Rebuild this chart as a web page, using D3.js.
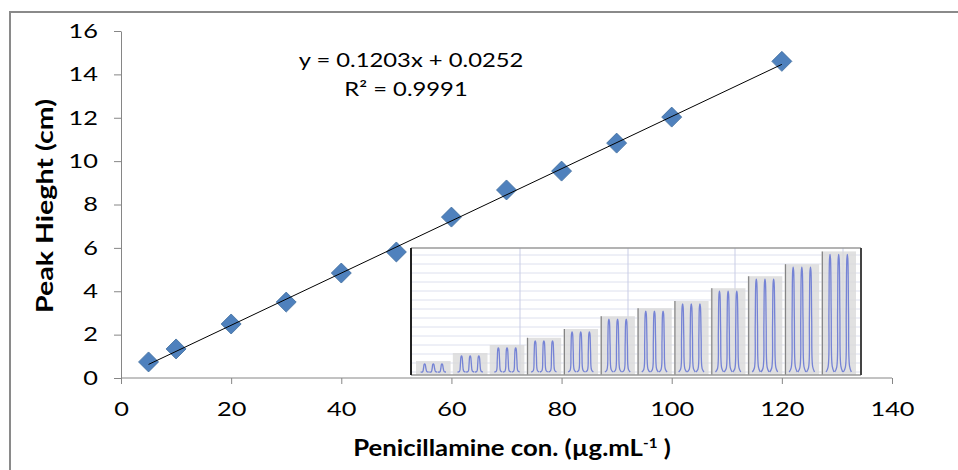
<!DOCTYPE html>
<html>
<head>
  <meta charset="utf-8">
  <script src="https://d3js.org/d3.v7.min.js"></script>
  <style>
    body { margin: 0; background: #fff; }
    svg { display: block; font-family: Lato, "Open Sans", sans-serif; }
    .tick text { font-size: 19.5px; fill: #000; font-family: Lato, sans-serif; }
    .axis path, .axis line { stroke: #868686; }
  </style>
</head>
<body>
  <svg id="chart" width="958" height="470"></svg>
  <script>
    // concentration (µg/mL) and peak height (cm)
    const conc = [5, 10, 20, 30, 40, 50, 60, 70, 80, 90, 100, 120];
    const height = [0.74, 1.34, 2.49, 3.5, 4.84, 5.81, 7.42, 8.67, 9.54, 10.83, 12.03, 14.6];
    // fitted line from the equation label
    const slope = 0.1203;
    const intercept = 0.0252;
    const xTicks = [0, 20, 40, 60, 80, 100, 120, 140];
    const yTicks = [0, 2, 4, 6, 8, 10, 12, 14, 16];
    // recorder trace in the inset: peak heights of the 12 groups (same units)
    const insetPeaks = [1.0, 2.0, 3.0, 3.9, 5.0, 6.6, 7.6, 8.5, 10.1, 11.6, 13.1, 14.7];

    const svg = d3.select("#chart");
    const stretch = 1.3;   // text in the original is wide, so widen glyphs

    // outer frame
    svg.append("rect")
      .attr("x", 10).attr("y", 12)
      .attr("width", 960).attr("height", 480)
      .attr("fill", "none").attr("stroke", "#8a8a8a").attr("stroke-width", 2);

    const x = d3.scaleLinear().domain([0, 140]).range([121, 892]);
    const y = d3.scaleLinear().domain([0, 16]).range([378, 31]);

    // axes
    svg.append("g").attr("class", "axis")
      .attr("transform", "translate(0,378)")
      .call(d3.axisBottom(x).tickValues(xTicks).tickSize(6).tickPadding(18).tickSizeOuter(0))
      .call(g => g.select(".domain").attr("d", "M121,0H892"))
      .call(g => g.selectAll(".tick text").attr("transform", `scale(${stretch},1)`));

    svg.append("g").attr("class", "axis")
      .attr("transform", "translate(121,0)")
      .call(d3.axisLeft(y).tickValues(yTicks).tickSize(7).tickPadding(16).tickSizeOuter(0))
      .call(g => g.selectAll(".tick text")
        .attr("x", -23 / stretch)
        .attr("transform", `scale(${stretch},1)`));

    // --- inset trace ---
    const inset = svg.append("g");
    const ix0 = 411, ix1 = 861, iy0 = 248, iy1 = 375;
    inset.append("rect")
      .attr("x", ix0).attr("y", iy0).attr("width", ix1 - ix0).attr("height", iy1 - iy0)
      .attr("fill", "#fff");

    // light grid of the recorder paper
    inset.selectAll("line.hgrid").data(d3.range(iy1 - 3, iy0, -9))
      .join("line").attr("class", "hgrid")
      .attr("x1", ix0).attr("x2", ix1)
      .attr("y1", d => d).attr("y2", d => d)
      .attr("stroke", "#dde0ee").attr("stroke-width", 1);
    inset.selectAll("line.vgrid").data([520, 628, 735, 843])
      .join("line").attr("class", "vgrid")
      .attr("x1", d => d).attr("x2", d => d)
      .attr("y1", iy0).attr("y2", iy1)
      .attr("stroke", "#c9cde6").attr("stroke-width", 1);

    const band = d3.scaleBand().domain(d3.range(insetPeaks.length))
      .range([416, 856]).paddingInner(0.06);
    const iy = d3.scaleLinear().domain([0, 16]).range([372, 244]);

    const groups = inset.selectAll("g.grp").data(insetPeaks)
      .join("g").attr("class", "grp")
      .attr("transform", (d, i) => `translate(${band(i)},0)`);

    groups.append("rect")
      .attr("x", 0).attr("width", band.bandwidth())
      .attr("y", d => iy(d) - 3)
      .attr("height", d => iy1 - iy(d) + 3)
      .attr("fill", "#d9d9d9").attr("opacity", 0.8);

    groups.filter((d, i) => i >= 3).append("line")
      .attr("x1", 1).attr("x2", 1)
      .attr("y1", d => iy(d) - 3).attr("y2", iy1)
      .attr("stroke", "#6e6e6e").attr("stroke-width", 1.2).attr("opacity", 0.8);

    // a single peak glyph: [dx, fraction of height]
    const peakShape = [[-4, 0], [-2, 0.04], [-1.1, 0.5], [-0.5, 0.96], [0, 1], [0.5, 0.96], [1.2, 0.5], [2.2, 0.05], [4, 0]];
    const peakLine = d3.line().curve(d3.curveCatmullRom);
    groups.each(function (d) {
      const g = d3.select(this);
      const w = band.bandwidth();
      const h = iy(0) - iy(d);
      [0.25, 0.5, 0.75].forEach(f => {
        g.append("path")
          .attr("d", peakLine(peakShape.map(p => [w * f + p[0], iy(0) - p[1] * h])))
          .attr("fill", "none").attr("stroke", "#5a6bd2")
          .attr("stroke-width", 1.3).attr("opacity", 0.8);
      });
    });

    // inset borders
    inset.append("line").attr("x1", ix0).attr("x2", ix1).attr("y1", iy0).attr("y2", iy0)
      .attr("stroke", "#9a9a9a").attr("stroke-width", 1.5);
    inset.append("line").attr("x1", ix0).attr("x2", ix1).attr("y1", iy1).attr("y2", iy1)
      .attr("stroke", "#9a9a9a").attr("stroke-width", 1.5);
    inset.append("line").attr("x1", ix0).attr("x2", ix0).attr("y1", iy0).attr("y2", iy1)
      .attr("stroke", "#222").attr("stroke-width", 2);
    inset.append("line").attr("x1", ix1).attr("x2", ix1).attr("y1", iy0).attr("y2", iy1)
      .attr("stroke", "#444").attr("stroke-width", 2);

    // --- data markers ---
    const pts = conc.map((c, i) => ({ c: c, h: height[i] }));
    svg.selectAll("path.marker").data(pts)
      .join("path").attr("class", "marker")
      .attr("d", d3.symbol().type(d3.symbolSquare).size(200))
      .attr("transform", d => `translate(${x(d.c)},${y(d.h)}) rotate(45)`)
      .attr("fill", "#4f81bd").attr("stroke", "#43709f").attr("stroke-width", 0.8);

    // trend line on top of the markers
    const xs = d3.extent(conc);
    svg.append("line")
      .attr("x1", x(xs[0])).attr("y1", y(slope * xs[0] + intercept))
      .attr("x2", x(xs[1])).attr("y2", y(slope * xs[1] + intercept))
      .attr("stroke", "#000").attr("stroke-width", 1);

    // equation
    const eq = 1.22;
    svg.append("text")
      .attr("transform", `translate(411,67) scale(${eq},1)`)
      .attr("text-anchor", "middle").attr("font-size", 19.5)
      .text(`y = ${slope}x + ${intercept}`);
    svg.append("text")
      .attr("transform", `translate(406,96) scale(${eq},1)`)
      .attr("text-anchor", "middle").attr("font-size", 19.5)
      .text("R² = 0.9991");

    // axis titles
    svg.append("text")
      .attr("transform", "translate(53,206) rotate(-90) scale(1.3,1)")
      .attr("text-anchor", "middle").attr("font-size", 22).attr("font-weight", "bold")
      .text("Peak Hieght (cm)");
    const xt = svg.append("text")
      .attr("transform", "translate(512,456) scale(1.17,1)")
      .attr("text-anchor", "middle").attr("font-size", 22).attr("font-weight", "bold");
    xt.append("tspan").text("Penicillamine con. (µg.mL");
    xt.append("tspan").attr("dy", -8).attr("font-size", 13).text("-1");
    xt.append("tspan").attr("dy", 8).text(" )");
  </script>
</body>
</html>
